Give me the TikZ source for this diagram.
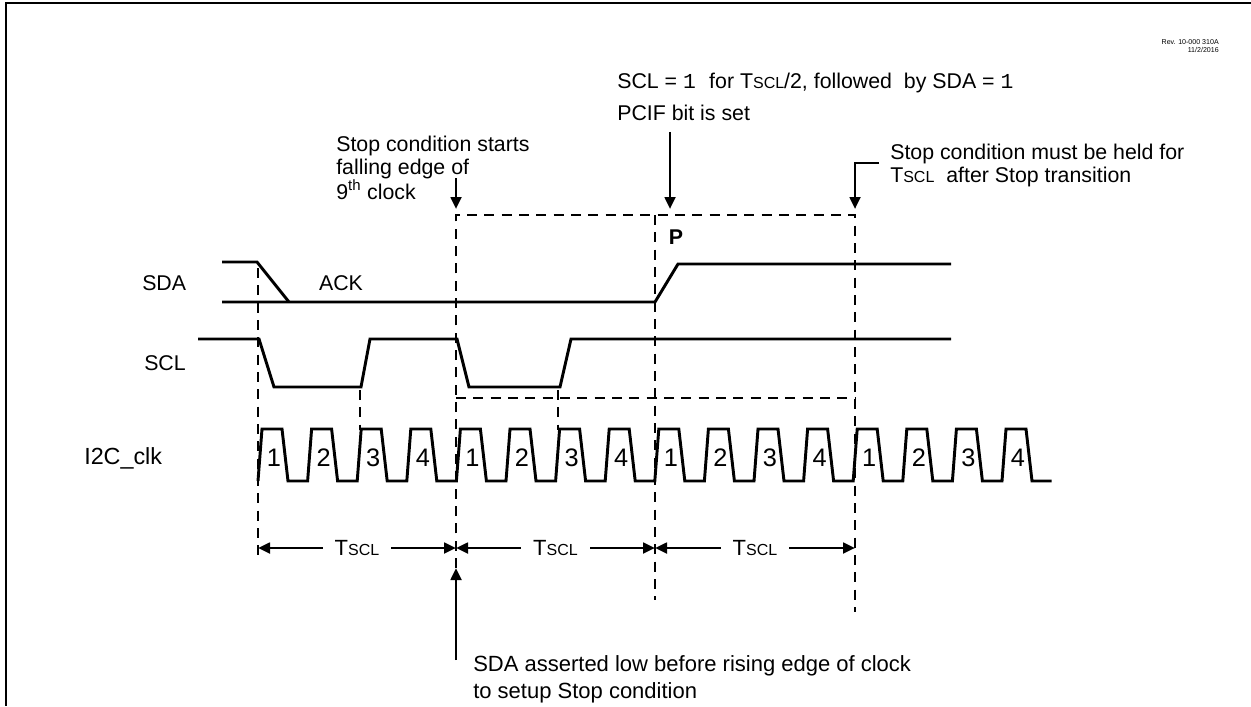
\documentclass[tikz,border=0pt]{standalone}
\usepackage{fontspec}
\setmainfont{Liberation Sans}
\newfontfamily\courfnt{Liberation Mono}
\usetikzlibrary{arrows.meta}
\newcommand{\tscl}{T{\fontsize{12}{12}\selectfont SCL}}
\tikzset{
  sig/.style={line width=2.2pt, line join=miter},
  guide/.style={line width=1.3pt, dash pattern=on 7.5pt off 5.5pt},
  ptr/.style={line width=2pt, -{Triangle[length=9pt,width=8pt]}},
  span/.style={line width=2pt, {Triangle[length=9pt,width=8pt]}-{Triangle[length=9pt,width=8pt]}},
  lbl/.style={font=\fontsize{16}{17}\selectfont, inner sep=0pt},
  dig/.style={font=\fontsize{19}{19}\selectfont, inner sep=0pt}
}
\begin{document}
\begin{tikzpicture}[x=0.75pt,y=-0.75pt]
\useasboundingbox (0,0) rectangle (1251,706);
\draw[line width=1.5pt] (1251,3) -- (6,3) -- (6,706);
\node[anchor=east, align=right, inner sep=0pt, font=\fontsize{5.3}{6}\selectfont] (rev) at (1219,46) {Rev. 10-000 310A\\11/2/2016};
% signal names
\node[lbl, anchor=west] (sda) at (142,283) {SDA};
\node[lbl, anchor=west] (scl) at (144,363) {SCL};
\node[lbl, anchor=west, font=\fontsize{17.5}{18}\selectfont] (clk) at (84,458) {I2C\_clk};
\node[lbl] (ack) at (341,283) {ACK};
\node[lbl] (pmark) at (676,237) {\bfseries P};
% SDA and SCL
\draw[sig] (222,262) -- (257,262) -- (289,302);
\draw[sig] (222,302) -- (655,302) -- (678,264) -- (951,264);
\draw[sig] (198,339) -- (259,339) -- (274,387) -- (361,387) -- (370,339) -- (457,339)
  -- (469,387) -- (560,387) -- (571,339) -- (951,339);
% I2C_clk
\draw[sig] (258,481) \foreach \n in {0,...,15} { -- ++(4,-52) -- ++(20,0) -- ++(6,52) -- ++(19.6,0) };
\foreach \n in {0,...,15} {
  \pgfmathsetmacro\xa{274+49.6*\n}
  \pgfmathtruncatemacro\dg{mod(\n,4)+1}
  \node[dig] (d\n) at (\xa,458) {\dg};
}
% guides
\coordinate (g0) at (258,548);
\coordinate (g1) at (456,548);
\coordinate (g2) at (655,548);
\coordinate (g3) at (855,548);
\draw[guide] (258,268) -- (258,556);
\draw[guide] (360,390) -- (360,430);
\draw[guide] (558,390) -- (558,430);
\draw[guide] (456,568) -- (456,215) -- (855,215) -- (855,612);
\draw[guide] (655,215) -- (655,600);
\draw[guide] (456,398) -- (855,398);
% periods
\draw[span] (g0) -- node[fill=white, inner xsep=9pt, inner ysep=2pt, font=\fontsize{16.5}{17}\selectfont] (t1) {\tscl} (g1);
\draw[span] (g1) -- node[fill=white, inner xsep=9pt, inner ysep=2pt, font=\fontsize{16.5}{17}\selectfont] (t2) {\tscl} (g2);
\draw[span] (g2) -- node[fill=white, inner xsep=9pt, inner ysep=2pt, font=\fontsize{16.5}{17}\selectfont] (t3) {\tscl} (g3);
% notes
\node[lbl, anchor=west] (cond) at (617,83) {SCL = {\courfnt 1}\hspace{10pt}for \tscl/2, followed\ \ by SDA = {\courfnt 1}};
\node[lbl, anchor=west] (pcif) at (617,113) {PCIF bit is set};
\node[lbl, anchor=north west, align=left] (start) at (336,136) {Stop condition starts\\falling edge of\\9\textsuperscript{th} clock};
\node[lbl, anchor=north west, align=left] (held) at (890,144) {Stop condition must be held for\\\tscl\ \ after Stop transition};
\node[lbl, anchor=north west, align=left, font=\fontsize{16.5}{20.5}\selectfont] (setup) at (473,655) {SDA asserted low before rising edge of clock\\to setup Stop condition};
\coordinate (s1) at (456,178);
\coordinate (e1) at (456,209);
\coordinate (s2) at (670,132);
\coordinate (e2) at (670,209);
\coordinate (s3) at (879,163);
\coordinate (e3) at (855,209);
\coordinate (s4) at (456,660);
\coordinate (e4) at (456,568);
\draw[ptr] (s1) -- (e1);
\draw[ptr] (s2) -- (e2);
\draw[ptr] (s3) -| (e3);
\draw[ptr] (s4) -- (e4);
\end{tikzpicture}
\end{document}
